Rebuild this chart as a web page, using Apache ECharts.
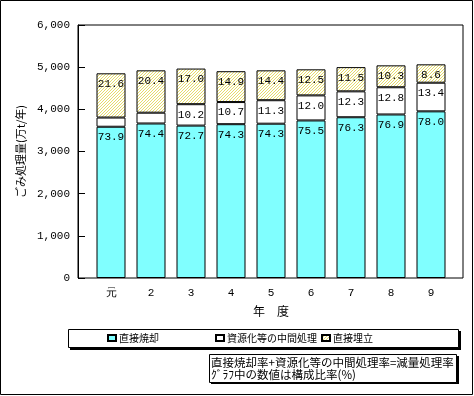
<!DOCTYPE html>
<html>
<head>
<meta charset="utf-8">
<script src="https://cdn.jsdelivr.net/npm/echarts@6/dist/echarts.min.js"></script>
<style>
html,body{margin:0;padding:0;background:#fff;}
#main{width:474px;height:396px;}
</style>
</head>
<body>
<div id="main"></div>
<script>
// ---- data ----
var categories = ['元', '2', '3', '4', '5', '6', '7', '8', '9'];
var totals = [4854, 4925, 4972, 4909, 4925, 4949, 4996, 5043, 5067];      // 万t/年
var directIncinerationPct = [73.9, 74.4, 72.7, 74.3, 74.3, 75.5, 76.3, 76.9, 78.0];
var intermediatePct = [4.5, 5.2, 10.2, 10.7, 11.3, 12.0, 12.3, 12.8, 13.4];
var intermediateLabelShown = [false, false, true, true, true, true, true, true, true];
var landfillPct = [21.6, 20.4, 17.0, 14.9, 14.4, 12.5, 11.5, 10.3, 8.6];
var yTicks = [0, 1000, 2000, 3000, 4000, 5000, 6000];
var seriesNames = ['直接焼却', '資源化等の中間処理', '直接埋立'];

// ---- hatch pattern ----
var pc = document.createElement('canvas');
pc.width = 3; pc.height = 3;
var pctx = pc.getContext('2d');
pctx.fillStyle = '#ffffff'; pctx.fillRect(0, 0, 3, 3);
pctx.fillStyle = '#e6dc6a';
pctx.fillRect(0, 2, 1, 1); pctx.fillRect(1, 1, 1, 1); pctx.fillRect(2, 0, 1, 1);
var hatch = {image: pc, repeat: 'repeat'};

function amounts(pcts) {
  return pcts.map(function (p, i) { return totals[i] * p / 100; });
}

var jp = 'Noto Sans CJK JP';
var mono = 'Liberation Mono';

function mkSeries(idx, pcts, color, shownArr) {
  var vals = amounts(pcts);
  return {
    name: seriesNames[idx],
    type: 'bar',
    stack: 'total',
    xAxisIndex: 1,
    yAxisIndex: 1,
    barWidth: 29,
    itemStyle: {color: color, borderColor: '#000', borderWidth: 1},
    label: {
      show: true,
      position: 'insideTop',
      distance: 5,
      color: '#000',
      fontFamily: mono,
      fontSize: 11,
      formatter: function (p) { return pcts[p.dataIndex].toFixed(1); }
    },
    emphasis: {disabled: true},
    data: vals.map(function (v, i) {
      var d = {value: v};
      if (shownArr && !shownArr[i]) d.label = {show: false};
      return d;
    })
  };
}

function mkLegend(i, left) {
  return {data: [seriesNames[i]], left: left, top: 333, itemWidth: 8, itemHeight: 6, itemGap: 3, icon: 'rect',
    textStyle: {color: '#000', fontFamily: jp, fontSize: 10, padding: [0, 0, 0, -2]}, selectedMode: false, padding: 0};
}

var chart = echarts.init(document.getElementById('main'), null, {renderer: 'canvas'});
chart.setOption({
  animation: false,
  backgroundColor: '#fff',
  grid: [
    {left: 78, right: 11, top: 25, bottom: 118, show: true, borderColor: '#000', borderWidth: 1, backgroundColor: 'transparent'},
    {left: 91, right: 23, top: 25, bottom: 118}
  ],
  xAxis: [
    {gridIndex: 0, type: 'category', data: categories, show: false},
    {
      gridIndex: 1, type: 'category', data: categories,
      axisLine: {show: false}, axisTick: {show: false},
      axisLabel: {margin: 10, color: '#000', fontFamily: mono, fontSize: 11},
      name: '年　度', nameLocation: 'middle', nameGap: 27,
      nameTextStyle: {color: '#000', fontFamily: jp, fontSize: 12}
    }
  ],
  yAxis: [
    {
      gridIndex: 0, type: 'value', min: yTicks[0], max: yTicks[yTicks.length - 1], interval: 1000,
      axisLine: {show: true, lineStyle: {color: '#000'}},
      axisTick: {show: true, inside: true, length: 7, lineStyle: {color: '#000'}},
      splitLine: {show: false},
      axisLabel: {margin: 8, color: '#000', fontFamily: mono, fontSize: 11,
        formatter: function (v) { return v.toLocaleString('en-US'); }},
      name: 'ごみ処理量(万t/年)', nameLocation: 'middle', nameGap: 40, nameRotate: 90,
      nameTextStyle: {color: '#000', fontFamily: jp, fontSize: 11}
    },
    {gridIndex: 1, type: 'value', min: yTicks[0], max: yTicks[yTicks.length - 1], show: false}
  ],
  legend: [mkLegend(0, 107), mkLegend(1, 215), mkLegend(2, 321)],
  graphic: [
    {type: 'rect', z: -10, shape: {x: 0.5, y: 0.5, width: 472, height: 394}, style: {fill: 'none', stroke: '#000', lineWidth: 1}},
    {type: 'rect', z: -5, shape: {x: 70, y: 331, width: 391, height: 19}, style: {fill: '#000'}},
    {type: 'rect', z: -4, shape: {x: 68.5, y: 329.5, width: 390, height: 18}, style: {fill: '#fff', stroke: '#000', lineWidth: 1}},
    {type: 'rect', z: -5, shape: {x: 211, y: 356, width: 248, height: 28}, style: {fill: '#000'}},
    {type: 'rect', z: -4, shape: {x: 209.5, y: 354.5, width: 247, height: 28}, style: {fill: '#fff', stroke: '#000', lineWidth: 1}},
    {type: 'text', z: 10, left: 211, top: 357,
      style: {text: '直接焼却率+資源化等の中間処理率=減量処理率\nｸﾞﾗﾌ中の数値は構成比率(%)', fill: '#000',
        font: '11.5px "Noto Sans CJK JP"', lineHeight: 12}}
  ],
  series: [
    mkSeries(0, directIncinerationPct, '#80ffff'),
    mkSeries(1, intermediatePct, '#ffffff', intermediateLabelShown),
    mkSeries(2, landfillPct, hatch)
  ]
});
</script>
</body>
</html>
